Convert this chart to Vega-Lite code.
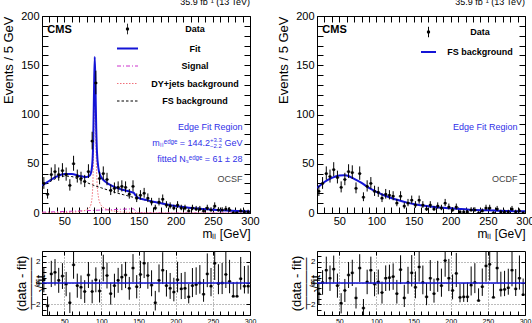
{
  "$schema": "https://vega.github.io/schema/vega-lite/v6.json",
  "padding": {"left": 1, "top": -3, "right": 0, "bottom": 0},
  "background": "white",
  "config": {
    "font": "Liberation Sans",
    "view": {"stroke": "black", "strokeWidth": 1},
    "axis": {"labelColor": "black", "tickColor": "black", "titleColor": "black", "tickWidth": 1, "labelFont": "Liberation Sans", "titleFont": "Liberation Sans"},
    "title": {"color": "black", "font": "Liberation Sans"}
  },
  "datasets": {
    "sf": [
      {"m": 22.5, "n": 30, "lo": 24.5, "hi": 36.5}, {"m": 27.5, "n": 19, "lo": 14.6, "hi": 24.4},
      {"m": 32.5, "n": 39, "lo": 32.8, "hi": 46.2}, {"m": 37.5, "n": 42, "lo": 35.5, "hi": 49.5},
      {"m": 42.5, "n": 39, "lo": 32.8, "hi": 46.2}, {"m": 47.5, "n": 43, "lo": 36.4, "hi": 50.6},
      {"m": 52.5, "n": 39, "lo": 32.8, "hi": 46.2}, {"m": 57.5, "n": 28, "lo": 22.7, "hi": 34.3},
      {"m": 62.5, "n": 50, "lo": 42.9, "hi": 58.1}, {"m": 67.5, "n": 37, "lo": 30.9, "hi": 44.1},
      {"m": 72.5, "n": 35, "lo": 29.1, "hi": 41.9}, {"m": 77.5, "n": 32, "lo": 26.3, "hi": 38.7},
      {"m": 82.5, "n": 42, "lo": 35.5, "hi": 49.5}, {"m": 87.5, "n": 73, "lo": 64.5, "hi": 82.5},
      {"m": 92.5, "n": 132, "lo": 120.5, "hi": 144.5}, {"m": 97.5, "n": 35, "lo": 29.1, "hi": 41.9},
      {"m": 102.5, "n": 40, "lo": 33.7, "hi": 47.3}, {"m": 107.5, "n": 34, "lo": 28.2, "hi": 40.8},
      {"m": 112.5, "n": 23, "lo": 18.2, "hi": 28.8}, {"m": 117.5, "n": 25, "lo": 20, "hi": 31},
      {"m": 122.5, "n": 26, "lo": 20.9, "hi": 32.1}, {"m": 127.5, "n": 27, "lo": 21.8, "hi": 33.2},
      {"m": 132.5, "n": 26, "lo": 20.9, "hi": 32.1}, {"m": 137.5, "n": 19, "lo": 14.6, "hi": 24.4},
      {"m": 142.5, "n": 27, "lo": 21.8, "hi": 33.2}, {"m": 147.5, "n": 15, "lo": 11.1, "hi": 19.9},
      {"m": 152.5, "n": 18, "lo": 13.8, "hi": 23.2}, {"m": 157.5, "n": 20, "lo": 15.5, "hi": 25.5},
      {"m": 162.5, "n": 15, "lo": 11.1, "hi": 19.9}, {"m": 167.5, "n": 11, "lo": 7.7, "hi": 15.4},
      {"m": 172.5, "n": 5, "lo": 2.8, "hi": 8.4}, {"m": 177.5, "n": 11, "lo": 7.7, "hi": 15.4},
      {"m": 182.5, "n": 14, "lo": 10.3, "hi": 18.8}, {"m": 187.5, "n": 8, "lo": 5.2, "hi": 12},
      {"m": 192.5, "n": 7, "lo": 4.4, "hi": 10.8}, {"m": 197.5, "n": 5, "lo": 2.8, "hi": 8.4},
      {"m": 202.5, "n": 8, "lo": 5.2, "hi": 12}, {"m": 207.5, "n": 5, "lo": 2.8, "hi": 8.4},
      {"m": 212.5, "n": 5, "lo": 2.8, "hi": 8.4}, {"m": 217.5, "n": 2, "lo": 0.7, "hi": 4.6},
      {"m": 222.5, "n": 5, "lo": 2.8, "hi": 8.4}, {"m": 227.5, "n": 4, "lo": 2.1, "hi": 7.2},
      {"m": 232.5, "n": 4, "lo": 2.1, "hi": 7.2}, {"m": 237.5, "n": 2, "lo": 0.7, "hi": 4.6},
      {"m": 242.5, "n": 5, "lo": 2.8, "hi": 8.4}, {"m": 247.5, "n": 3, "lo": 1.4, "hi": 5.9},
      {"m": 252.5, "n": 7, "lo": 4.4, "hi": 10.8}, {"m": 257.5, "n": 3, "lo": 1.4, "hi": 5.9},
      {"m": 262.5, "n": 3, "lo": 1.4, "hi": 5.9}, {"m": 267.5, "n": 4, "lo": 2.1, "hi": 7.2},
      {"m": 272.5, "n": 3, "lo": 1.4, "hi": 5.9}, {"m": 277.5, "n": 0, "lo": 0, "hi": 1.8},
      {"m": 282.5, "n": 0, "lo": 0, "hi": 1.8}, {"m": 287.5, "n": 2, "lo": 0.7, "hi": 4.6},
      {"m": 292.5, "n": 1, "lo": 0.2, "hi": 3.3}, {"m": 297.5, "n": 1, "lo": 0.2, "hi": 3.3}
    ],
    "df": [
      {"m": 22.5, "n": 22, "lo": 17.3, "hi": 27.7}, {"m": 27.5, "n": 30, "lo": 24.5, "hi": 36.5},
      {"m": 32.5, "n": 40, "lo": 33.7, "hi": 47.3}, {"m": 37.5, "n": 37, "lo": 30.9, "hi": 44.1},
      {"m": 42.5, "n": 44, "lo": 37.4, "hi": 51.6}, {"m": 47.5, "n": 36, "lo": 30, "hi": 43},
      {"m": 52.5, "n": 26, "lo": 20.9, "hi": 32.1}, {"m": 57.5, "n": 34, "lo": 28.2, "hi": 40.8},
      {"m": 62.5, "n": 42, "lo": 35.5, "hi": 49.5}, {"m": 67.5, "n": 41, "lo": 34.6, "hi": 48.4},
      {"m": 72.5, "n": 25, "lo": 20, "hi": 31}, {"m": 77.5, "n": 40, "lo": 33.7, "hi": 47.3},
      {"m": 82.5, "n": 16, "lo": 12, "hi": 21}, {"m": 87.5, "n": 27, "lo": 21.8, "hi": 33.2},
      {"m": 92.5, "n": 30, "lo": 24.5, "hi": 36.5}, {"m": 97.5, "n": 22, "lo": 17.3, "hi": 27.7},
      {"m": 102.5, "n": 21, "lo": 16.4, "hi": 26.6}, {"m": 107.5, "n": 15, "lo": 11.1, "hi": 19.9},
      {"m": 112.5, "n": 19, "lo": 14.6, "hi": 24.4}, {"m": 117.5, "n": 18, "lo": 13.8, "hi": 23.2},
      {"m": 122.5, "n": 17, "lo": 12.9, "hi": 22.1}, {"m": 127.5, "n": 10, "lo": 6.9, "hi": 14.3},
      {"m": 132.5, "n": 17, "lo": 12.9, "hi": 22.1}, {"m": 137.5, "n": 7, "lo": 4.4, "hi": 10.8},
      {"m": 142.5, "n": 10, "lo": 6.9, "hi": 14.3}, {"m": 147.5, "n": 13, "lo": 9.4, "hi": 17.7},
      {"m": 152.5, "n": 8, "lo": 5.2, "hi": 12}, {"m": 157.5, "n": 13, "lo": 9.4, "hi": 17.7},
      {"m": 162.5, "n": 8, "lo": 5.2, "hi": 12}, {"m": 167.5, "n": 4, "lo": 2.1, "hi": 7.2},
      {"m": 172.5, "n": 8, "lo": 5.2, "hi": 12}, {"m": 177.5, "n": 4, "lo": 2.1, "hi": 7.2},
      {"m": 182.5, "n": 7, "lo": 4.4, "hi": 10.8}, {"m": 187.5, "n": 5, "lo": 2.8, "hi": 8.4},
      {"m": 192.5, "n": 10, "lo": 6.9, "hi": 14.3}, {"m": 197.5, "n": 6, "lo": 3.6, "hi": 9.6},
      {"m": 202.5, "n": 3, "lo": 1.4, "hi": 5.9}, {"m": 207.5, "n": 6, "lo": 3.6, "hi": 9.6},
      {"m": 212.5, "n": 1, "lo": 0.2, "hi": 3.3}, {"m": 217.5, "n": 1, "lo": 0.2, "hi": 3.3},
      {"m": 222.5, "n": 1, "lo": 0.2, "hi": 3.3}, {"m": 227.5, "n": 3, "lo": 1.4, "hi": 5.9},
      {"m": 232.5, "n": 3, "lo": 1.4, "hi": 5.9}, {"m": 237.5, "n": 0, "lo": 0, "hi": 1.8},
      {"m": 242.5, "n": 2, "lo": 0.7, "hi": 4.6}, {"m": 247.5, "n": 5, "lo": 2.8, "hi": 8.4},
      {"m": 252.5, "n": 5, "lo": 2.8, "hi": 8.4}, {"m": 257.5, "n": 0, "lo": 0, "hi": 1.8},
      {"m": 262.5, "n": 4, "lo": 2.1, "hi": 7.2}, {"m": 267.5, "n": 1, "lo": 0.2, "hi": 3.3},
      {"m": 272.5, "n": 1, "lo": 0.2, "hi": 3.3}, {"m": 277.5, "n": 1, "lo": 0.2, "hi": 3.3},
      {"m": 282.5, "n": 4, "lo": 2.1, "hi": 7.2}, {"m": 287.5, "n": 1, "lo": 0.2, "hi": 3.3},
      {"m": 292.5, "n": 2, "lo": 0.7, "hi": 4.6}, {"m": 297.5, "n": 0, "lo": 0, "hi": 1.8}
    ],
    "sfCurves": [
      {"m": 20, "series": "FS background", "v": 27}, {"m": 30, "series": "FS background", "v": 31.5},
      {"m": 40, "series": "FS background", "v": 35.5}, {"m": 50, "series": "FS background", "v": 37.5},
      {"m": 60, "series": "FS background", "v": 37}, {"m": 70, "series": "FS background", "v": 34},
      {"m": 80, "series": "FS background", "v": 31}, {"m": 90, "series": "FS background", "v": 28},
      {"m": 100, "series": "FS background", "v": 25.5}, {"m": 110, "series": "FS background", "v": 23},
      {"m": 120, "series": "FS background", "v": 20.5}, {"m": 130, "series": "FS background", "v": 18.5},
      {"m": 140, "series": "FS background", "v": 16.5}, {"m": 150, "series": "FS background", "v": 14.7},
      {"m": 160, "series": "FS background", "v": 13}, {"m": 175, "series": "FS background", "v": 10.5},
      {"m": 200, "series": "FS background", "v": 7}, {"m": 225, "series": "FS background", "v": 4.8},
      {"m": 250, "series": "FS background", "v": 3.3}, {"m": 275, "series": "FS background", "v": 2.3},
      {"m": 300, "series": "FS background", "v": 1.6},
      {"m": 20, "series": "Signal", "v": 0.8}, {"m": 40, "series": "Signal", "v": 1.3},
      {"m": 60, "series": "Signal", "v": 1.8}, {"m": 80, "series": "Signal", "v": 2.4},
      {"m": 100, "series": "Signal", "v": 3.0}, {"m": 120, "series": "Signal", "v": 3.6},
      {"m": 140, "series": "Signal", "v": 4.2}, {"m": 143, "series": "Signal", "v": 4.3},
      {"m": 146, "series": "Signal", "v": 2.0}, {"m": 149, "series": "Signal", "v": 0.4},
      {"m": 152, "series": "Signal", "v": 0.05}, {"m": 160, "series": "Signal", "v": 0},
      {"m": 200, "series": "Signal", "v": 0}, {"m": 300, "series": "Signal", "v": 0},
      {"m": 20, "series": "DY+jets background", "v": 0.1}, {"m": 40, "series": "DY+jets background", "v": 0.3},
      {"m": 60, "series": "DY+jets background", "v": 0.8}, {"m": 70, "series": "DY+jets background", "v": 1.5},
      {"m": 75, "series": "DY+jets background", "v": 2.2}, {"m": 80, "series": "DY+jets background", "v": 3.2},
      {"m": 84, "series": "DY+jets background", "v": 5.5}, {"m": 86, "series": "DY+jets background", "v": 9},
      {"m": 88, "series": "DY+jets background", "v": 22}, {"m": 89, "series": "DY+jets background", "v": 45},
      {"m": 90, "series": "DY+jets background", "v": 92}, {"m": 91, "series": "DY+jets background", "v": 128},
      {"m": 92, "series": "DY+jets background", "v": 97}, {"m": 93, "series": "DY+jets background", "v": 56},
      {"m": 94, "series": "DY+jets background", "v": 32}, {"m": 96, "series": "DY+jets background", "v": 16},
      {"m": 98, "series": "DY+jets background", "v": 10}, {"m": 100, "series": "DY+jets background", "v": 7.5},
      {"m": 105, "series": "DY+jets background", "v": 4.5}, {"m": 110, "series": "DY+jets background", "v": 3},
      {"m": 120, "series": "DY+jets background", "v": 1.6}, {"m": 130, "series": "DY+jets background", "v": 0.9},
      {"m": 140, "series": "DY+jets background", "v": 0.6}, {"m": 150, "series": "DY+jets background", "v": 0.4},
      {"m": 175, "series": "DY+jets background", "v": 0.2}, {"m": 200, "series": "DY+jets background", "v": 0.1},
      {"m": 250, "series": "DY+jets background", "v": 0.05}, {"m": 300, "series": "DY+jets background", "v": 0.03},
      {"m": 20, "series": "Fit", "v": 27.9}, {"m": 30, "series": "Fit", "v": 32.75},
      {"m": 40, "series": "Fit", "v": 37.1}, {"m": 50, "series": "Fit", "v": 39.55},
      {"m": 60, "series": "Fit", "v": 39.6}, {"m": 70, "series": "Fit", "v": 37.6},
      {"m": 75, "series": "Fit", "v": 36.95}, {"m": 80, "series": "Fit", "v": 36.6},
      {"m": 84, "series": "Fit", "v": 37.8}, {"m": 86, "series": "Fit", "v": 40.75},
      {"m": 88, "series": "Fit", "v": 53.2}, {"m": 89, "series": "Fit", "v": 75.9},
      {"m": 90, "series": "Fit", "v": 122.7}, {"m": 91, "series": "Fit", "v": 158.5},
      {"m": 92, "series": "Fit", "v": 127.25}, {"m": 93, "series": "Fit", "v": 86.05},
      {"m": 94, "series": "Fit", "v": 61.8}, {"m": 96, "series": "Fit", "v": 45.4},
      {"m": 98, "series": "Fit", "v": 38.95}, {"m": 100, "series": "Fit", "v": 36},
      {"m": 105, "series": "Fit", "v": 31.9}, {"m": 110, "series": "Fit", "v": 29.3},
      {"m": 120, "series": "Fit", "v": 25.7}, {"m": 130, "series": "Fit", "v": 23.3},
      {"m": 140, "series": "Fit", "v": 21.3}, {"m": 143, "series": "Fit", "v": 20.8},
      {"m": 146, "series": "Fit", "v": 17.9}, {"m": 149, "series": "Fit", "v": 15.72},
      {"m": 152, "series": "Fit", "v": 14.78}, {"m": 160, "series": "Fit", "v": 13.3},
      {"m": 175, "series": "Fit", "v": 10.7}, {"m": 200, "series": "Fit", "v": 7.1},
      {"m": 225, "series": "Fit", "v": 4.85}, {"m": 250, "series": "Fit", "v": 3.35},
      {"m": 275, "series": "Fit", "v": 2.33}, {"m": 300, "series": "Fit", "v": 1.63}
    ],
    "dfCurve": [
      {"m": 20, "series": "FS background", "v": 25.4}, {"m": 25, "series": "FS background", "v": 28.5},
      {"m": 30, "series": "FS background", "v": 31.5}, {"m": 40, "series": "FS background", "v": 35.6},
      {"m": 50, "series": "FS background", "v": 38}, {"m": 57, "series": "FS background", "v": 38.3},
      {"m": 60, "series": "FS background", "v": 38}, {"m": 70, "series": "FS background", "v": 34.6},
      {"m": 80, "series": "FS background", "v": 30.5}, {"m": 90, "series": "FS background", "v": 25.4},
      {"m": 100, "series": "FS background", "v": 21.4}, {"m": 110, "series": "FS background", "v": 18},
      {"m": 120, "series": "FS background", "v": 15.3}, {"m": 130, "series": "FS background", "v": 12.9},
      {"m": 140, "series": "FS background", "v": 10.8}, {"m": 150, "series": "FS background", "v": 9.2},
      {"m": 175, "series": "FS background", "v": 6.4}, {"m": 200, "series": "FS background", "v": 4.7},
      {"m": 225, "series": "FS background", "v": 3.4}, {"m": 250, "series": "FS background", "v": 2.7},
      {"m": 275, "series": "FS background", "v": 2.0}, {"m": 300, "series": "FS background", "v": 1.7}
    ],
    "sfRatio": [
      {"m": 22.5, "r": 0.3, "lo": -0.87, "hi": 1.47}, {"m": 27.5, "r": -2.15, "lo": -3.04, "hi": -1.26},
      {"m": 32.5, "r": 0.85, "lo": -0.38, "hi": 2.08}, {"m": 37.5, "r": 1.0, "lo": -0.24, "hi": 2.24},
      {"m": 42.5, "r": 0.25, "lo": -0.92, "hi": 1.42}, {"m": 47.5, "r": 0.65, "lo": -0.56, "hi": 1.86},
      {"m": 52.5, "r": -0.1, "lo": -1.24, "hi": 1.04}, {"m": 57.5, "r": -1.85, "lo": -2.82, "hi": -0.88},
      {"m": 62.5, "r": 1.7, "lo": 0.4, "hi": 3.0}, {"m": 67.5, "r": -0.25, "lo": -1.38, "hi": 0.88},
      {"m": 72.5, "r": -0.4, "lo": -1.51, "hi": 0.71}, {"m": 77.5, "r": -0.8, "lo": -1.87, "hi": 0.27},
      {"m": 82.5, "r": 0.75, "lo": -0.47, "hi": 1.97}, {"m": 87.5, "r": -0.8, "lo": -1.9, "hi": 0.3},
      {"m": 92.5, "r": 0.3, "lo": -0.87, "hi": 1.47}, {"m": 97.5, "r": -0.75, "lo": -1.83, "hi": 0.33},
      {"m": 102.5, "r": 1.4, "lo": 0.15, "hi": 2.65}, {"m": 107.5, "r": 0.7, "lo": -0.51, "hi": 1.91},
      {"m": 112.5, "r": -1.0, "lo": -2.03, "hi": 0.03}, {"m": 117.5, "r": -0.25, "lo": -1.37, "hi": 0.87},
      {"m": 122.5, "r": 0.25, "lo": -0.92, "hi": 1.42}, {"m": 127.5, "r": 0.55, "lo": -0.67, "hi": 1.77},
      {"m": 132.5, "r": 0.75, "lo": -0.48, "hi": 1.98}, {"m": 137.5, "r": -0.5, "lo": -1.57, "hi": 0.57},
      {"m": 142.5, "r": 1.4, "lo": 0.09, "hi": 2.71}, {"m": 147.5, "r": -0.35, "lo": -1.44, "hi": 0.74},
      {"m": 152.5, "r": 0.8, "lo": -0.48, "hi": 2.08}, {"m": 157.5, "r": 1.85, "lo": 0.46, "hi": 3.24},
      {"m": 162.5, "r": 0.7, "lo": -0.54, "hi": 1.94}, {"m": 167.5, "r": -0.2, "lo": -1.24, "hi": 1.19},
      {"m": 172.5, "r": -1.85, "lo": -2.57, "hi": -0.74}, {"m": 177.5, "r": 0.25, "lo": -0.87, "hi": 1.74},
      {"m": 182.5, "r": 1.2, "lo": -0.1, "hi": 2.89}, {"m": 187.5, "r": -0.25, "lo": -1.27, "hi": 1.21},
      {"m": 192.5, "r": -0.5, "lo": -1.49, "hi": 0.94}, {"m": 197.5, "r": -0.85, "lo": -1.72, "hi": 0.49},
      {"m": 202.5, "r": 0.3, "lo": -0.88, "hi": 1.99}, {"m": 207.5, "r": -0.55, "lo": -1.51, "hi": 0.94},
      {"m": 212.5, "r": -0.5, "lo": -1.5, "hi": 1.04}, {"m": 217.5, "r": -1.3, "lo": -1.91, "hi": -0.08},
      {"m": 222.5, "r": -0.25, "lo": -1.32, "hi": 1.4}, {"m": 227.5, "r": -0.15, "lo": -1.11, "hi": 1.47},
      {"m": 232.5, "r": 0.0, "lo": -1.0, "hi": 1.68}, {"m": 237.5, "r": -1.05, "lo": -1.76, "hi": 0.37},
      {"m": 242.5, "r": 0.85, "lo": -0.39, "hi": 2.77}, {"m": 247.5, "r": -0.3, "lo": -1.24, "hi": 1.41},
      {"m": 252.5, "r": 1.85, "lo": 0.28, "hi": 4.15}, {"m": 257.5, "r": -0.05, "lo": -1.05, "hi": 1.76},
      {"m": 262.5, "r": 0.0, "lo": -1.04, "hi": 1.88}, {"m": 267.5, "r": 0.8, "lo": -0.47, "hi": 2.95},
      {"m": 272.5, "r": 0.15, "lo": -0.96, "hi": 2.17}, {"m": 277.5, "r": -1.25, "lo": -1.25, "hi": 0.07},
      {"m": 282.5, "r": -1.25, "lo": -1.25, "hi": 0.12}, {"m": 287.5, "r": 0.4, "lo": -0.62, "hi": 2.44},
      {"m": 292.5, "r": -0.3, "lo": -0.98, "hi": 1.59}, {"m": 297.5, "r": -0.3, "lo": -1.0, "hi": 1.65}
    ],
    "dfRatio": [
      {"m": 22.5, "r": -1.0, "lo": -2.04, "hi": 0.04}, {"m": 27.5, "r": 0.05, "lo": -1.1, "hi": 1.2},
      {"m": 32.5, "r": 1.2, "lo": -0.07, "hi": 2.47}, {"m": 37.5, "r": 0.45, "lo": -0.74, "hi": 1.64},
      {"m": 42.5, "r": 1.3, "lo": 0.03, "hi": 2.57}, {"m": 47.5, "r": -0.25, "lo": -1.38, "hi": 0.88},
      {"m": 52.5, "r": -1.9, "lo": -2.85, "hi": -0.95}, {"m": 57.5, "r": -0.7, "lo": -1.78, "hi": 0.38},
      {"m": 62.5, "r": 0.75, "lo": -0.47, "hi": 1.97}, {"m": 67.5, "r": 0.95, "lo": -0.28, "hi": 2.18},
      {"m": 72.5, "r": -1.4, "lo": -2.39, "hi": -0.41}, {"m": 77.5, "r": 1.4, "lo": 0.1, "hi": 2.7},
      {"m": 82.5, "r": -2.35, "lo": -3.2, "hi": -1.5}, {"m": 87.5, "r": 0.1, "lo": -1.05, "hi": 1.25},
      {"m": 92.5, "r": 1.2, "lo": -0.07, "hi": 2.47}, {"m": 97.5, "r": -0.1, "lo": -1.24, "hi": 1.04},
      {"m": 102.5, "r": 0.1, "lo": -1.06, "hi": 1.26}, {"m": 107.5, "r": -0.9, "lo": -1.93, "hi": 0.13},
      {"m": 112.5, "r": 0.45, "lo": -0.75, "hi": 1.65}, {"m": 117.5, "r": 0.5, "lo": -0.72, "hi": 1.72},
      {"m": 122.5, "r": 0.6, "lo": -0.64, "hi": 1.84}, {"m": 127.5, "r": -1.0, "lo": -1.93, "hi": 0.29},
      {"m": 132.5, "r": 1.25, "lo": -0.1, "hi": 2.6}, {"m": 137.5, "r": -1.4, "lo": -2.25, "hi": -0.16},
      {"m": 142.5, "r": 0.05, "lo": -1.01, "hi": 1.52}, {"m": 147.5, "r": 0.95, "lo": -0.33, "hi": 2.62},
      {"m": 152.5, "r": -0.4, "lo": -1.43, "hi": 1.08}, {"m": 157.5, "r": 1.5, "lo": 0.12, "hi": 3.3},
      {"m": 162.5, "r": 0.05, "lo": -1.06, "hi": 1.64}, {"m": 167.5, "r": -1.3, "lo": -2.08, "hi": 0.01},
      {"m": 172.5, "r": 0.45, "lo": -0.74, "hi": 2.15}, {"m": 177.5, "r": -1.0, "lo": -1.84, "hi": 0.41},
      {"m": 182.5, "r": 0.35, "lo": -0.83, "hi": 2.08}, {"m": 187.5, "r": -0.25, "lo": -1.29, "hi": 1.35},
      {"m": 192.5, "r": 2.1, "lo": 0.59, "hi": 4.19}, {"m": 197.5, "r": 0.45, "lo": -0.76, "hi": 2.26},
      {"m": 202.5, "r": -0.7, "lo": -1.53, "hi": 0.8}, {"m": 207.5, "r": 0.9, "lo": -0.38, "hi": 2.82},
      {"m": 212.5, "r": -1.35, "lo": -1.81, "hi": -0.08}, {"m": 217.5, "r": -1.3, "lo": -1.77, "hi": 0.0},
      {"m": 222.5, "r": -1.3, "lo": -1.79, "hi": 0.05}, {"m": 227.5, "r": -0.2, "lo": -1.17, "hi": 1.55},
      {"m": 232.5, "r": 0.05, "lo": -0.95, "hi": 1.86}, {"m": 237.5, "r": -1.65, "lo": -1.65, "hi": -0.5},
      {"m": 242.5, "r": -0.35, "lo": -1.21, "hi": 1.36}, {"m": 247.5, "r": 1.6, "lo": 0.12, "hi": 3.89},
      {"m": 252.5, "r": 1.75, "lo": 0.22, "hi": 4.12}, {"m": 257.5, "r": -1.35, "lo": -1.35, "hi": -0.07},
      {"m": 262.5, "r": 1.4, "lo": 0.02, "hi": 3.72}, {"m": 267.5, "r": -0.65, "lo": -1.27, "hi": 1.06},
      {"m": 272.5, "r": -0.6, "lo": -1.23, "hi": 1.14}, {"m": 277.5, "r": -0.45, "lo": -1.1, "hi": 1.34},
      {"m": 282.5, "r": 1.2, "lo": -0.31, "hi": 3.75}, {"m": 287.5, "r": -0.55, "lo": -1.22, "hi": 1.31},
      {"m": 292.5, "r": 0.45, "lo": -0.62, "hi": 2.58}, {"m": 297.5, "r": -1.1, "lo": -1.1, "hi": 0.42}
    ]
  },
  "columns": 2,
  "spacing": {"row": 38, "column": 67},
  "bounds": "flush",
  "align": "each",
  "resolve": {
    "scale": {"x": "independent", "y": "independent", "color": "independent", "strokeDash": "independent"},
    "axis": {"x": "independent", "y": "independent"},
    "legend": {"color": "independent"}
  },
  "concat": [
    {
      "width": 208,
      "height": 197,
      "title": {"text": "35.9 fb⁻¹ (13 TeV)", "anchor": "end", "frame": "group", "fontSize": 9, "fontWeight": "normal", "offset": 3},
      "resolve": {"axis": {"x": "independent", "y": "independent"}},
      "layer": [
        {
          "data": {"name": "sfCurves"},
          "transform": [{"filter": "datum.series !== 'Fit'"}],
          "mark": {"type": "line", "strokeWidth": 1, "interpolate": "monotone", "clip": true},
          "encoding": {
            "x": {"field": "m", "type": "quantitative", "scale": {"domain": [20, 300], "nice": false, "zero": false},
              "axis": {"orient": "bottom", "values": [20,30,40,50,60,70,80,90,100,110,120,130,140,150,160,170,180,190,200,210,220,230,240,250,260,270,280,290,300],
                "labelExpr": "datum.value % 50 === 0 ? datum.label : ''", "labelFontSize": 11, "labelFlush": false, "labelOverlap": false,
                "tickSize": -6, "labelPadding": 8, "grid": false, "domain": false,
                "title": "mₗₗ [GeV]", "titleFontSize": 12, "titleFontWeight": "normal", "titleX": 208, "titleY": 24, "titleAlign": "right", "titleBaseline": "alphabetic",
                "encode": {"ticks": {"update": {"y2": {"signal": "datum.value % 50 === 0 ? -6 : -3"}}}}}},
            "y": {"field": "v", "type": "quantitative", "scale": {"domain": [0, 200], "nice": false, "zero": false},
              "axis": {"orient": "left", "values": [0,10,20,30,40,50,60,70,80,90,100,110,120,130,140,150,160,170,180,190,200],
                "labelExpr": "datum.value % 50 === 0 ? datum.label : ''", "labelFontSize": 11, "labelFlush": false, "labelOverlap": false,
                "tickSize": -6, "labelPadding": 9, "grid": false, "domain": false,
                "title": "Events / 5 GeV", "titleFontSize": 13, "titleFontWeight": "normal", "titleX": -34, "titleY": 0, "titleAngle": 270, "titleAlign": "right", "titleBaseline": "middle",
                "encode": {"ticks": {"update": {"x2": {"signal": "datum.value % 50 === 0 ? 6 : 3"}}}}}},
            "color": {"field": "series", "type": "nominal",
              "scale": {"domain": ["Data", "Fit", "Signal", "DY+jets background", "FS background"], "range": ["#000000", "#1414d6", "#cc33cc", "#f0707a", "#000000"]},
              "legend": {"orient": "none", "legendX": 81, "legendY": 8.5, "direction": "vertical", "title": null, "padding": 0, "offset": 0,
                "symbolType": "stroke", "symbolSize": 441, "symbolStrokeWidth": 1, "symbolOffset": 0,
                "labelFont": "Liberation Sans", "labelFontSize": 9, "labelFontWeight": "bold", "labelColor": "black", "labelAlign": "center", "labelOffset": 50, "labelLimit": 300,
                "rowPadding": 7.5,
                "encode": {
                  "symbols": {"update": {
                    "shape": {"signal": "datum.value === 'Data' ? 'M0,-0.5V0.5M-0.12,0H0.12M-0.1,-0.1H0.1V0.1H-0.1Z' : 'stroke'"},
                    "strokeDash": {"signal": "datum.value === 'Signal' ? [4,2,1,2] : datum.value === 'DY+jets background' ? [1.5,1.5] : datum.value === 'FS background' ? [2.5,2] : [1,0]"},
                    "strokeWidth": {"signal": "datum.value === 'Fit' ? 2 : 1"},
                    "fill": {"signal": "datum.value === 'Data' ? 'black' : 'transparent'"}}},
                  "labels": {"update": {"x": {"value": 72}, "align": {"value": "center"}}}}}},
            "strokeDash": {"field": "series", "type": "nominal",
              "scale": {"domain": ["Signal", "DY+jets background", "FS background"], "range": [[4, 2, 1, 2], [1.5, 1.5], [2.5, 2]]}, "legend": null}
          }
        },
        {
          "data": {"name": "sfCurves"},
          "transform": [{"filter": "datum.series === 'Fit'"}],
          "mark": {"type": "line", "strokeWidth": 2, "interpolate": "monotone", "clip": true},
          "encoding": {
            "x": {"field": "m", "type": "quantitative",
              "axis": {"orient": "top", "values": [20,30,40,50,60,70,80,90,100,110,120,130,140,150,160,170,180,190,200,210,220,230,240,250,260,270,280,290,300],
                "labels": false, "tickSize": -6, "grid": false, "domain": false, "title": null,
                "encode": {"ticks": {"update": {"y2": {"signal": "datum.value % 50 === 0 ? 6 : 3"}}}}}},
            "y": {"field": "v", "type": "quantitative",
              "axis": {"orient": "right", "values": [0,10,20,30,40,50,60,70,80,90,100,110,120,130,140,150,160,170,180,190,200],
                "labels": false, "tickSize": -6, "grid": false, "domain": false, "title": null,
                "encode": {"ticks": {"update": {"x2": {"signal": "datum.value % 50 === 0 ? -6 : -3"}}}}}},
            "color": {"field": "series", "type": "nominal"}
          }
        },
        {
          "data": {"name": "sf"},
          "mark": {"type": "rule", "color": "black", "strokeWidth": 1, "clip": true},
          "encoding": {
            "x": {"field": "m", "type": "quantitative", "axis": null},
            "y": {"field": "lo", "type": "quantitative", "axis": null},
            "y2": {"field": "hi"}
          }
        },
        {
          "data": {"name": "sf"},
          "mark": {"type": "tick", "orient": "horizontal", "size": 3.7, "thickness": 1, "color": "black", "clip": true},
          "encoding": {
            "x": {"field": "m", "type": "quantitative", "axis": null},
            "y": {"field": "n", "type": "quantitative", "axis": null}
          }
        },
        {
          "data": {"name": "sf"},
          "mark": {"type": "square", "size": 6, "color": "black", "opacity": 1, "clip": true},
          "encoding": {
            "x": {"field": "m", "type": "quantitative", "axis": null},
            "y": {"field": "n", "type": "quantitative", "axis": null}
          }
        },
        {
          "data": {"values": [{}]},
          "mark": {"type": "text", "text": "CMS", "fontSize": 11, "fontWeight": "bold", "align": "left", "baseline": "middle", "color": "black"},
          "encoding": {"x": {"datum": 27.1, "type": "quantitative", "axis": null}, "y": {"datum": 185.8, "type": "quantitative", "axis": null}}
        },
        {
          "data": {"values": [{}]},
          "mark": {"type": "text", "text": "Edge Fit Region", "fontSize": 9, "align": "right", "baseline": "middle", "color": "#3030e8"},
          "encoding": {"x": {"datum": 290, "type": "quantitative", "axis": null}, "y": {"datum": 87.3, "type": "quantitative", "axis": null}}
        },
        {
          "data": {"values": [{}]},
          "mark": {"type": "text", "text": "GeV", "fontSize": 9, "align": "right", "baseline": "middle", "color": "#3030e8"},
          "encoding": {"x": {"datum": 290, "type": "quantitative", "axis": null}, "y": {"datum": 71.1, "type": "quantitative", "axis": null}}
        },
        {
          "data": {"values": [{}]},
          "mark": {"type": "text", "text": "+3.3", "fontSize": 6, "align": "right", "baseline": "middle", "dx": -20.7, "dy": -3, "color": "#3030e8"},
          "encoding": {"x": {"datum": 290, "type": "quantitative", "axis": null}, "y": {"datum": 71.1, "type": "quantitative", "axis": null}}
        },
        {
          "data": {"values": [{}]},
          "mark": {"type": "text", "text": "−2.2", "fontSize": 6, "align": "right", "baseline": "middle", "dx": -20.7, "dy": 3.5, "color": "#3030e8"},
          "encoding": {"x": {"datum": 290, "type": "quantitative", "axis": null}, "y": {"datum": 71.1, "type": "quantitative", "axis": null}}
        },
        {
          "data": {"values": [{}]},
          "mark": {"type": "text", "text": "mₗₗᵉᵈᵍᵉ = 144.2", "fontSize": 9, "align": "right", "baseline": "middle", "dx": -32.5, "color": "#3030e8"},
          "encoding": {"x": {"datum": 290, "type": "quantitative", "axis": null}, "y": {"datum": 71.1, "type": "quantitative", "axis": null}}
        },
        {
          "data": {"values": [{}]},
          "mark": {"type": "text", "text": "fitted Nₛᵉᵈᵍᵉ = 61 ± 28", "fontSize": 9, "align": "right", "baseline": "middle", "color": "#3030e8"},
          "encoding": {"x": {"datum": 290, "type": "quantitative", "axis": null}, "y": {"datum": 54.8, "type": "quantitative", "axis": null}}
        },
        {
          "data": {"values": [{}]},
          "mark": {"type": "text", "text": "OCSF", "fontSize": 9, "align": "right", "baseline": "middle", "color": "#444444"},
          "encoding": {"x": {"datum": 290, "type": "quantitative", "axis": null}, "y": {"datum": 35, "type": "quantitative", "axis": null}}
        }
      ]
    },
    {
      "width": 208,
      "height": 197,
      "title": {"text": "35.9 fb⁻¹ (13 TeV)", "anchor": "end", "frame": "group", "fontSize": 9, "fontWeight": "normal", "offset": 3},
      "resolve": {"axis": {"x": "independent", "y": "independent"}},
      "layer": [
        {
          "data": {"name": "dfCurve"},
          "mark": {"type": "line", "strokeWidth": 2, "interpolate": "monotone", "clip": true},
          "encoding": {
            "x": {"field": "m", "type": "quantitative", "scale": {"domain": [20, 300], "nice": false, "zero": false},
              "axis": {"orient": "bottom", "values": [20,30,40,50,60,70,80,90,100,110,120,130,140,150,160,170,180,190,200,210,220,230,240,250,260,270,280,290,300],
                "labelExpr": "datum.value % 50 === 0 ? datum.label : ''", "labelFontSize": 11, "labelFlush": false, "labelOverlap": false,
                "tickSize": -6, "labelPadding": 8, "grid": false, "domain": false,
                "title": "mₗₗ [GeV]", "titleFontSize": 12, "titleFontWeight": "normal", "titleX": 208, "titleY": 24, "titleAlign": "right", "titleBaseline": "alphabetic",
                "encode": {"ticks": {"update": {"y2": {"signal": "datum.value % 50 === 0 ? -6 : -3"}}}}}},
            "y": {"field": "v", "type": "quantitative", "scale": {"domain": [0, 200], "nice": false, "zero": false},
              "axis": {"orient": "left", "values": [0,10,20,30,40,50,60,70,80,90,100,110,120,130,140,150,160,170,180,190,200],
                "labelExpr": "datum.value % 50 === 0 ? datum.label : ''", "labelFontSize": 11, "labelFlush": false, "labelOverlap": false,
                "tickSize": -6, "labelPadding": 9, "grid": false, "domain": false,
                "title": "Events / 5 GeV", "titleFontSize": 13, "titleFontWeight": "normal", "titleX": -34, "titleY": 0, "titleAngle": 270, "titleAlign": "right", "titleBaseline": "middle",
                "encode": {"ticks": {"update": {"x2": {"signal": "datum.value % 50 === 0 ? 6 : 3"}}}}}},
            "color": {"field": "series", "type": "nominal",
              "scale": {"domain": ["Data", "FS background"], "range": ["#000000", "#1414d6"]},
              "legend": {"orient": "none", "legendX": 107, "legendY": 11.5, "direction": "vertical", "title": null, "padding": 0, "offset": 0,
                "symbolType": "stroke", "symbolSize": 225, "symbolStrokeWidth": 2, "symbolOffset": 0,
                "labelFont": "Liberation Sans", "labelFontSize": 9, "labelFontWeight": "bold", "labelColor": "black", "labelAlign": "center", "labelOffset": 40, "labelLimit": 300,
                "rowPadding": 8,
                "encode": {
                  "symbols": {"update": {
                    "shape": {"signal": "datum.value === 'Data' ? 'M0,-0.7V0.7M-0.16,0H0.16M-0.14,-0.14H0.14V0.14H-0.14Z' : 'stroke'"},
                    "strokeWidth": {"signal": "datum.value === 'Data' ? 1 : 2"},
                    "fill": {"signal": "datum.value === 'Data' ? 'black' : 'transparent'"}}},
                  "labels": {"update": {"x": {"value": 56}, "align": {"value": "center"}}}}}}
          }
        },
        {
          "data": {"name": "df"},
          "mark": {"type": "rule", "color": "black", "strokeWidth": 1, "clip": true},
          "encoding": {
            "x": {"field": "m", "type": "quantitative",
              "axis": {"orient": "top", "values": [20,30,40,50,60,70,80,90,100,110,120,130,140,150,160,170,180,190,200,210,220,230,240,250,260,270,280,290,300],
                "labels": false, "tickSize": -6, "grid": false, "domain": false, "title": null,
                "encode": {"ticks": {"update": {"y2": {"signal": "datum.value % 50 === 0 ? 6 : 3"}}}}}},
            "y": {"field": "lo", "type": "quantitative",
              "axis": {"orient": "right", "values": [0,10,20,30,40,50,60,70,80,90,100,110,120,130,140,150,160,170,180,190,200],
                "labels": false, "tickSize": -6, "grid": false, "domain": false, "title": null,
                "encode": {"ticks": {"update": {"x2": {"signal": "datum.value % 50 === 0 ? -6 : -3"}}}}}},
            "y2": {"field": "hi"}
          }
        },
        {
          "data": {"name": "df"},
          "mark": {"type": "tick", "orient": "horizontal", "size": 3.7, "thickness": 1, "color": "black", "clip": true},
          "encoding": {
            "x": {"field": "m", "type": "quantitative", "axis": null},
            "y": {"field": "n", "type": "quantitative", "axis": null}
          }
        },
        {
          "data": {"name": "df"},
          "mark": {"type": "square", "size": 6, "color": "black", "opacity": 1, "clip": true},
          "encoding": {
            "x": {"field": "m", "type": "quantitative", "axis": null},
            "y": {"field": "n", "type": "quantitative", "axis": null}
          }
        },
        {
          "data": {"values": [{}]},
          "mark": {"type": "text", "text": "CMS", "fontSize": 11, "fontWeight": "bold", "align": "left", "baseline": "middle", "color": "black"},
          "encoding": {"x": {"datum": 27.1, "type": "quantitative", "axis": null}, "y": {"datum": 185.8, "type": "quantitative", "axis": null}}
        },
        {
          "data": {"values": [{}]},
          "mark": {"type": "text", "text": "Edge Fit Region", "fontSize": 9, "align": "right", "baseline": "middle", "color": "#3030e8"},
          "encoding": {"x": {"datum": 290, "type": "quantitative", "axis": null}, "y": {"datum": 87.3, "type": "quantitative", "axis": null}}
        },
        {
          "data": {"values": [{}]},
          "mark": {"type": "text", "text": "OCDF", "fontSize": 9, "align": "right", "baseline": "middle", "color": "#444444"},
          "encoding": {"x": {"datum": 290, "type": "quantitative", "axis": null}, "y": {"datum": 35, "type": "quantitative", "axis": null}}
        }
      ]
    },
    {
      "width": 208,
      "height": 64,
      "resolve": {"axis": {"x": "independent", "y": "independent"}},
      "layer": [
        {
          "data": {"name": "sfRatio"},
          "mark": {"type": "rule", "color": "black", "strokeWidth": 1, "clip": true},
          "encoding": {
            "x": {"field": "m", "type": "quantitative", "scale": {"domain": [20, 300], "nice": false, "zero": false},
              "axis": {"orient": "bottom", "values": [20,30,40,50,60,70,80,90,100,110,120,130,140,150,160,170,180,190,200,210,220,230,240,250,260,270,280,290,300],
                "labelExpr": "datum.value % 50 === 0 ? datum.label : ''", "labelFontSize": 7, "labelFlush": false, "labelOverlap": false,
                "tickSize": -4, "labelPadding": 6, "grid": false, "domain": false, "title": null,
                "encode": {"ticks": {"update": {"y2": {"signal": "datum.value % 50 === 0 ? -4 : -2"}}}}}},
            "y": {"field": "lo", "type": "quantitative", "scale": {"domain": [-3, 3], "nice": false, "zero": false},
              "axis": {"orient": "left", "values": [-3,-2.5,-2,-1.5,-1,-0.5,0,0.5,1,1.5,2,2.5,3],
                "labelExpr": "datum.value % 2 === 0 ? format(datum.value, 'd') : ''", "labelFontSize": 8, "labelFlush": false, "labelOverlap": false,
                "tickSize": -4, "labelPadding": 6, "grid": false, "domain": false,
                "title": ["(data - fit)", "――――", "√fit"], "titleFontSize": 13, "titleFontWeight": "normal", "titleLineHeight": 9.5,
                "titleX": -21, "titleY": 32, "titleAngle": 270, "titleAlign": "center", "titleBaseline": "middle",
                "encode": {"ticks": {"update": {"x2": {"signal": "datum.value % 2 === 0 ? 4 : 2"}}}}}},
            "y2": {"field": "hi"}
          }
        },
        {
          "data": {"name": "sfRatio"},
          "mark": {"type": "tick", "orient": "horizontal", "size": 3.7, "thickness": 1, "color": "black", "clip": true},
          "encoding": {
            "x": {"field": "m", "type": "quantitative",
              "axis": {"orient": "top", "values": [50, 100, 150, 200, 250], "labels": false, "tickSize": -4, "grid": true, "gridDash": [1, 2], "gridColor": "#555555", "gridWidth": 0.8, "domain": false, "title": null}},
            "y": {"field": "r", "type": "quantitative",
              "axis": {"orient": "right", "values": [-2, 0, 2], "labels": false, "tickSize": -4, "grid": true, "gridDash": [1, 2], "gridColor": "#555555", "gridWidth": 0.8, "domain": false, "title": null}}
          }
        },
        {
          "data": {"name": "sfRatio"},
          "mark": {"type": "square", "size": 6, "color": "black", "opacity": 1, "clip": true},
          "encoding": {
            "x": {"field": "m", "type": "quantitative", "axis": null},
            "y": {"field": "r", "type": "quantitative", "axis": null}
          }
        },
        {
          "data": {"values": [{}]},
          "mark": {"type": "rule", "color": "#1414d6", "strokeWidth": 1.5},
          "encoding": {"y": {"datum": 0, "type": "quantitative", "axis": null}}
        }
      ]
    },
    {
      "width": 208,
      "height": 64,
      "resolve": {"axis": {"x": "independent", "y": "independent"}},
      "layer": [
        {
          "data": {"name": "dfRatio"},
          "mark": {"type": "rule", "color": "black", "strokeWidth": 1, "clip": true},
          "encoding": {
            "x": {"field": "m", "type": "quantitative", "scale": {"domain": [20, 300], "nice": false, "zero": false},
              "axis": {"orient": "bottom", "values": [20,30,40,50,60,70,80,90,100,110,120,130,140,150,160,170,180,190,200,210,220,230,240,250,260,270,280,290,300],
                "labelExpr": "datum.value % 50 === 0 ? datum.label : ''", "labelFontSize": 7, "labelFlush": false, "labelOverlap": false,
                "tickSize": -4, "labelPadding": 6, "grid": false, "domain": false, "title": null,
                "encode": {"ticks": {"update": {"y2": {"signal": "datum.value % 50 === 0 ? -4 : -2"}}}}}},
            "y": {"field": "lo", "type": "quantitative", "scale": {"domain": [-3, 3], "nice": false, "zero": false},
              "axis": {"orient": "left", "values": [-3,-2.5,-2,-1.5,-1,-0.5,0,0.5,1,1.5,2,2.5,3],
                "labelExpr": "datum.value % 2 === 0 ? format(datum.value, 'd') : ''", "labelFontSize": 8, "labelFlush": false, "labelOverlap": false,
                "tickSize": -4, "labelPadding": 6, "grid": false, "domain": false,
                "title": ["(data - fit)", "――――", "√fit"], "titleFontSize": 13, "titleFontWeight": "normal", "titleLineHeight": 9.5,
                "titleX": -21, "titleY": 32, "titleAngle": 270, "titleAlign": "center", "titleBaseline": "middle",
                "encode": {"ticks": {"update": {"x2": {"signal": "datum.value % 2 === 0 ? 4 : 2"}}}}}},
            "y2": {"field": "hi"}
          }
        },
        {
          "data": {"name": "dfRatio"},
          "mark": {"type": "tick", "orient": "horizontal", "size": 3.7, "thickness": 1, "color": "black", "clip": true},
          "encoding": {
            "x": {"field": "m", "type": "quantitative",
              "axis": {"orient": "top", "values": [50, 100, 150, 200, 250], "labels": false, "tickSize": -4, "grid": true, "gridDash": [1, 2], "gridColor": "#555555", "gridWidth": 0.8, "domain": false, "title": null}},
            "y": {"field": "r", "type": "quantitative",
              "axis": {"orient": "right", "values": [-2, 0, 2], "labels": false, "tickSize": -4, "grid": true, "gridDash": [1, 2], "gridColor": "#555555", "gridWidth": 0.8, "domain": false, "title": null}}
          }
        },
        {
          "data": {"name": "dfRatio"},
          "mark": {"type": "square", "size": 6, "color": "black", "opacity": 1, "clip": true},
          "encoding": {
            "x": {"field": "m", "type": "quantitative", "axis": null},
            "y": {"field": "r", "type": "quantitative", "axis": null}
          }
        },
        {
          "data": {"values": [{}]},
          "mark": {"type": "rule", "color": "#1414d6", "strokeWidth": 1.5},
          "encoding": {"y": {"datum": 0, "type": "quantitative", "axis": null}}
        }
      ]
    }
  ]
}
